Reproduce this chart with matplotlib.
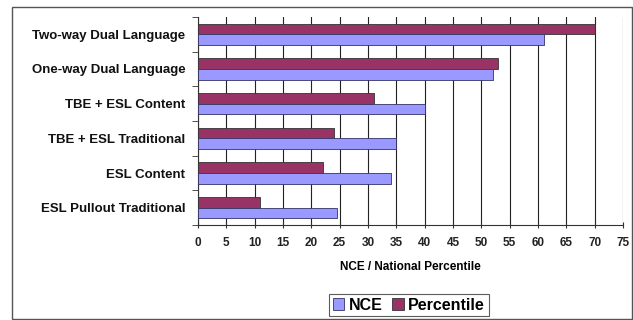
import matplotlib
matplotlib.use("Agg")
import matplotlib.pyplot as plt
import numpy as np
from matplotlib.patches import Rectangle

categories = ["Two-way Dual Language", "One-way Dual Language", "TBE + ESL Content",
              "TBE + ESL Traditional", "ESL Content", "ESL Pullout Traditional"]
nce = [61, 52, 40, 35, 34, 24.5]
percentile = [70, 53, 31, 24, 22, 11]
xticks = list(range(0, 80, 5))

plt.rcParams['font.family'] = ['Liberation Sans', 'DejaVu Sans']

W, H = 633, 320
fig = plt.figure(figsize=(W / 100, H / 100), dpi=100)
fig.patch.set_facecolor("white")
ax = fig.add_axes([198 / W, 1 - 225 / H, (623 - 198) / W, (225 - 17) / H])

n = len(categories)
y = np.arange(n)[::-1].astype(float)
h = 0.31
ax.barh(y + h / 2, percentile, height=h, color="#993366", edgecolor="#333333", linewidth=0.6,
        label="Percentile", zorder=3)
ax.barh(y - h / 2, nce, height=h, color="#9999FF", edgecolor="#333366", linewidth=0.6,
        label="NCE", zorder=3)

ax.set_xlim(0, 75)
ax.set_ylim(-0.5, n - 0.5)
ax.set_xticks(xticks)
ax.set_xticklabels([str(t) for t in xticks], fontsize=8.5, fontweight="bold", color="#222222")
ax.set_yticks(y)
ax.set_yticklabels(categories, fontsize=9.5, fontweight="bold", color="#111111")
ax.set_yticks(np.arange(n + 1) - 0.5, minor=True)
ax.tick_params(axis="y", which="major", length=0, pad=9)
ax.tick_params(axis="y", which="minor", length=4, direction="out", color="#333333")
ax.tick_params(axis="x", which="major", length=4, direction="inout", color="#333333", pad=7)
ax.grid(axis="x", color="#222222", linewidth=0.8, zorder=0)
for s in ["top", "right"]:
    ax.spines[s].set_visible(False)
ax.spines["left"].set_color("#333333")
ax.spines["bottom"].set_color("#333333")
ax.set_xlabel("NCE / National Percentile", fontsize=8.5, fontweight="bold", labelpad=8)

handles, labels = ax.get_legend_handles_labels()
leg = fig.legend(handles[::-1], labels[::-1], loc="center", bbox_to_anchor=(409 / W, 1 - 305 / H),
                 ncol=2, fontsize=11.5, frameon=True, fancybox=False, edgecolor="#333333",
                 handlelength=0.7, handleheight=0.7, handletextpad=0.3, columnspacing=0.6,
                 borderpad=0.25, prop={"weight": "bold", "size": 11.5})
leg.get_frame().set_linewidth(0.8)

fig.add_artist(Rectangle((12 / W, 1 / H), (W - 13) / W, (H - 8) / H, transform=fig.transFigure,
                         fill=False, edgecolor="#555555", linewidth=1.0))

fig.savefig("out.png", dpi=100)
